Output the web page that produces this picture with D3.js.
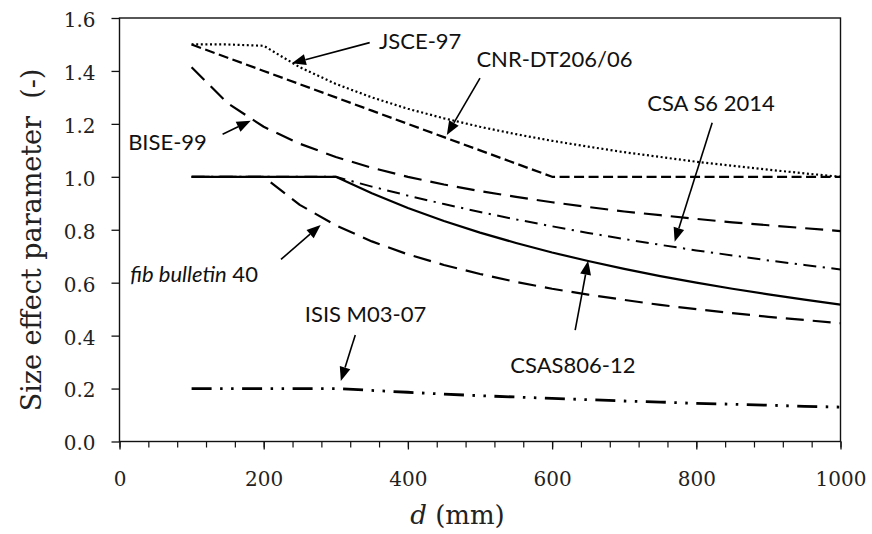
<!DOCTYPE html>
<html>
<head>
<meta charset="utf-8">
<script src="https://cdn.jsdelivr.net/npm/d3@7/dist/d3.min.js"></script>
<style>
  html, body { margin: 0; padding: 0; background: #fff; }
  svg { display: block; }
  .tick text { font-family: "DejaVu Serif", serif; font-size: 20px; fill: #222; }
  .note { font-family: Lato, "Open Sans", sans-serif; font-size: 22px; fill: #111; }
</style>
</head>
<body>
<svg id="chart" width="872" height="534"></svg>
<script>
// Member depth d (mm)
const depths = [100,150,200,250,300,350,400,450,500,550,600,650,700,750,800,850,900,950,1000];

// Size effect parameter of each design code at the depths above
const jsce97   = [1.5,1.5,1.495,1.414,1.351,1.300,1.257,1.221,1.189,1.161,1.136,1.114,1.093,1.075,1.057,1.042,1.027,1.013,1.0];
const cnrDT206 = [1.5,1.45,1.4,1.35,1.3,1.25,1.2,1.15,1.1,1.05,1.0,1.0,1.0,1.0,1.0,1.0,1.0,1.0,1.0];
const bise99   = [1.414,1.278,1.189,1.125,1.075,1.034,1.0,0.971,0.946,0.924,0.904,0.886,0.869,0.855,0.841,0.828,0.817,0.806,0.795];
const fib40    = [1.0,1.0,1.0,0.894,0.817,0.756,0.707,0.667,0.633,0.603,0.577,0.555,0.535,0.516,0.5,0.485,0.471,0.459,0.447];
const csaS6    = [1.0,1.0,1.0,1.0,1.0,0.963,0.929,0.897,0.867,0.839,0.813,0.788,0.765,0.743,0.722,0.703,0.684,0.667,0.65];
const csaS806  = [1.0,1.0,1.0,1.0,1.0,0.938,0.882,0.833,0.789,0.75,0.714,0.682,0.652,0.625,0.6,0.577,0.556,0.536,0.517];
const isisM03  = [0.2,0.2,0.2,0.2,0.2,0.193,0.186,0.179,0.173,0.168,0.163,0.158,0.153,0.149,0.144,0.141,0.137,0.133,0.13];

// Axis ticks
const xMajorTicks = [0,200,400,600,800,1000];
const xMinorTicks = d3.range(0, 1001, 40);
const yTicks = [0,0.2,0.4,0.6,0.8,1.0,1.2,1.4,1.6];

// Line style of each series
const series = [
  { name: "JSCE-97",      values: jsce97,   width: 2.2, dash: "2,2.6" },
  { name: "CNR-DT206/06", values: cnrDT206, width: 2.2, dash: "10,4.5" },
  { name: "BISE-99",      values: bise99,   width: 2.2, dash: "18,9" },
  { name: "fib 40",       values: fib40,    width: 2.2, dash: "18,9" },
  { name: "CSA S6 2014",  values: csaS6,    width: 2.0, dash: "13,6.5,2.2,6.5" },
  { name: "CSAS806-12",   values: csaS806,  width: 2.2, dash: null },
  { name: "ISIS M03-07",  values: isisM03,  width: 2.8, dash: "20,8.5,2.5,8.5,2.5,8.5" }
];

// Callout labels: text anchor, arrow tail and arrow tip, in data units (d, parameter)
const notes = [
  { parts: [["JSCE-97", false]],                     at: [360, 1.483], tail: [347, 1.507], tip: [239, 1.429] },
  { parts: [["CNR-DT206/06", false]],                at: [495, 1.416], tail: [500, 1.373], tip: [454, 1.158] },
  { parts: [["CSA S6 2014", false]],                 at: [732, 1.249], tail: [822, 1.204], tip: [770, 0.755] },
  { parts: [["BISE-99", false]],                     at: [12, 1.101],  tail: [143, 1.161], tip: [182, 1.212] },
  { parts: [["fib bulletin", true], [" 40", false]], at: [15, 0.604],  tail: [224, 0.688], tip: [279, 0.818] },
  { parts: [["ISIS M03-07", false]],                 at: [257, 0.453], tail: [327, 0.402], tip: [307, 0.229] },
  { parts: [["CSAS806-12", false]],                  at: [542, 0.259], tail: [632, 0.421], tip: [650, 0.683] }
];

const svg = d3.select("#chart");
const x = d3.scaleLinear().domain([0, 1000]).range([119.5, 840.5]);
const y = d3.scaleLinear().domain([0, 1.6]).range([441.5, 18]);

// X axis: minor ticks every 40 mm, labelled major ticks every 200 mm
svg.append("g")
  .attr("transform", `translate(0,${y(0)})`)
  .call(d3.axisBottom(x).tickValues(xMinorTicks).tickSize(6).tickFormat(""))
  .call(g => g.select(".domain").remove())
  .call(g => g.selectAll("line").attr("stroke", "#111").attr("stroke-width", 1.2));

svg.append("g")
  .attr("transform", `translate(0,${y(0)})`)
  .call(d3.axisBottom(x).tickValues(xMajorTicks).tickSize(8).tickFormat(d3.format("d")))
  .call(g => g.select(".domain").remove())
  .call(g => g.selectAll("line").attr("stroke", "#111").attr("stroke-width", 1.3))
  .call(g => g.selectAll("text").attr("y", 44.5).attr("dy", 0));

// Y axis
svg.append("g")
  .attr("transform", `translate(${x(0)},0)`)
  .call(d3.axisLeft(y).tickValues(yTicks).tickSize(8).tickFormat(d3.format(".1f")))
  .call(g => g.select(".domain").remove())
  .call(g => g.selectAll("line").attr("stroke", "#111").attr("stroke-width", 1.3))
  .call(g => g.selectAll("text").attr("x", -24).attr("dy", "0.42em"));

// Plot frame
svg.append("rect")
  .attr("x", x(0)).attr("y", y(1.6))
  .attr("width", x(1000) - x(0)).attr("height", y(0) - y(1.6))
  .attr("fill", "none").attr("stroke", "#111").attr("stroke-width", 1.4);

// Curves
const line = d3.line()
  .x((v, i) => x(depths[i]))
  .y(v => y(v));

svg.append("g").selectAll("path")
  .data(series)
  .join("path")
  .attr("d", s => line(s.values))
  .attr("fill", "none")
  .attr("stroke", "#000")
  .attr("stroke-width", s => s.width)
  .attr("stroke-dasharray", s => s.dash)
  .attr("stroke-linecap", "butt")
  .attr("stroke-linejoin", "round");

// Callouts
const noteG = svg.append("g");
notes.forEach(n => {
  const t = noteG.append("text").attr("class", "note")
    .attr("x", x(n.at[0])).attr("y", y(n.at[1]));
  n.parts.forEach(([str, ital]) => {
    t.append("tspan").text(str).attr("font-style", ital ? "italic" : "normal");
  });

  const x0 = x(n.tail[0]), y0 = y(n.tail[1]);
  const x1 = x(n.tip[0]),  y1 = y(n.tip[1]);
  const ang = Math.atan2(y1 - y0, x1 - x0);
  const headLen = 14, headHalf = 5.5;
  const bx = x1 - headLen * Math.cos(ang), by = y1 - headLen * Math.sin(ang);
  noteG.append("line")
    .attr("x1", x0).attr("y1", y0).attr("x2", bx).attr("y2", by)
    .attr("stroke", "#000").attr("stroke-width", 1.6);
  const px = -Math.sin(ang), py = Math.cos(ang);
  noteG.append("path")
    .attr("d", `M${x1},${y1}L${bx + px * headHalf},${by + py * headHalf}L${bx - px * headHalf},${by - py * headHalf}Z`)
    .attr("fill", "#000");
});

// Axis titles
svg.append("text")
  .attr("transform", `translate(41,240) rotate(-90)`)
  .attr("text-anchor", "middle")
  .style("font-family", "'DejaVu Serif', serif")
  .style("font-size", "27px")
  .attr("fill", "#222")
  .text("Size effect parameter\u00A0\u00A0(-)");

const xt = svg.append("text")
  .attr("x", 457.5).attr("y", 524)
  .attr("text-anchor", "middle")
  .style("font-family", "'DejaVu Serif', serif")
  .style("font-size", "26px")
  .attr("fill", "#222");
xt.append("tspan").attr("font-style", "italic").text("d");
xt.append("tspan").text(" (mm)");
</script>
</body>
</html>
